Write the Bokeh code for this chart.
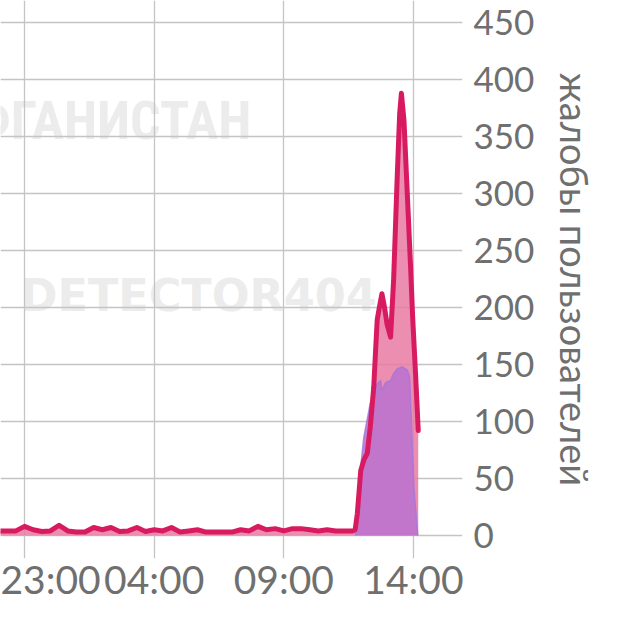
from bokeh.plotting import figure
from bokeh.models import FixedTicker, Label, Range1d
from bokeh.embed import file_html
from bokeh.resources import INLINE

# ---- data ----
tick_times = ["23:00", "04:00", "09:00", "14:00"]
y_ticks = [0, 50, 100, 150, 200, 250, 300, 350, 400, 450]

# complaints series (pink line)
pink_times = [
    "22:00", "22:20", "22:40", "23:00", "23:20", "23:40", "00:00", "00:20", "00:40",
    "01:00", "01:20", "01:40", "02:00", "02:20", "02:40", "03:00", "03:20",
    "03:40", "04:00", "04:20", "04:40", "05:00", "05:20", "05:40", "06:00",
    "06:20", "06:40", "07:00", "07:20", "07:40", "08:00", "08:20", "08:40",
    "09:00", "09:20", "09:40", "10:00", "10:20", "10:40", "11:00", "11:20",
    "11:40", "11:45", "11:50", "11:58", "12:05", "12:13", "12:20", "12:28",
    "12:32", "12:36", "12:41", "12:47", "12:53", "12:59", "13:07", "13:14",
    "13:22", "13:28", "13:32", "13:38", "13:46", "13:53", "13:58", "14:05",
    "14:11",
]
pink_values = [
    4, 4, 4, 8, 5, 3.5, 4, 9, 4,
    3, 3, 7, 5, 7, 3.5, 4, 7,
    3.5, 5, 4, 7, 3, 4, 5, 3,
    3, 3, 3, 5, 4, 8, 5, 6,
    4, 6, 6, 5, 4, 5, 4, 4,
    4, 5, 19, 57, 66, 72, 95, 130,
    160, 189, 200, 212, 200, 185, 174, 224,
    311, 370, 388, 364, 297, 238, 192, 140,
    92,
]

# second series (purple area)
purple_times = [
    "11:46", "11:53", "12:05", "12:20", "12:36", "12:44", "12:47", "12:55",
    "13:07", "13:14", "13:22", "13:34", "13:46", "13:51", "13:55", "14:01",
    "14:10",
]
purple_values = [
    0, 42, 86, 116, 133, 136, 127, 134,
    136, 142, 146, 148, 145, 139, 101, 42,
    0,
]

y_title = "жалобы пользователей"


def to_hours(t):
    h, m = (int(s) for s in t.split(":"))
    v = h + m / 60.0
    return v - 23 if h >= 22 else v + 1


tick_pos = [to_hours(t) for t in tick_times]
pink_x = [to_hours(t) for t in pink_times]
purple_x = [to_hours(t) for t in purple_times]

GRID = "#c4c4c4"
TXT = "#6f6f6f"

p = figure(
    width=608, height=608, output_backend="svg", toolbar_location=None,
    x_range=Range1d(-0.926, 16.89), y_range=Range1d(-20.2, 469.3),
    y_axis_location="right",
    min_border_left=0, min_border_top=0, min_border_right=146, min_border_bottom=50,
)
p.outline_line_color = None
p.background_fill_color = "white"
p.border_fill_color = "white"

# grids
p.xgrid.ticker = FixedTicker(ticks=tick_pos)
p.ygrid.ticker = FixedTicker(ticks=y_ticks)
for g in (p.xgrid, p.ygrid):
    g.grid_line_color = GRID
    g.grid_line_width = 1.3

# x axis
xa = p.xaxis[0]
xa.ticker = FixedTicker(ticks=tick_pos)
xa.major_label_overrides = {pos: lab for pos, lab in zip(tick_pos, tick_times)}
xa.axis_line_color = None
xa.major_tick_line_color = None
xa.minor_tick_line_color = None
xa.major_tick_out = 0
xa.major_tick_in = 0
xa.major_label_standoff = -3
xa.major_label_text_font = "Lato"
xa.major_label_text_font_size = "39px"
xa.major_label_text_color = TXT

# y axis (right)
ya = p.yaxis[0]
ya.ticker = FixedTicker(ticks=y_ticks)
ya.axis_line_color = None
ya.major_tick_line_color = None
ya.minor_tick_line_color = None
ya.major_tick_out = 0
ya.major_tick_in = 0
ya.major_label_standoff = 11
ya.major_label_text_font = "Lato"
ya.major_label_text_font_size = "35px"
ya.major_label_text_color = TXT
ya.axis_label = y_title
ya.axis_label_text_font = "Lato"
ya.axis_label_text_font_size = "38px"
ya.axis_label_text_font_style = "normal"
ya.axis_label_text_color = TXT
ya.axis_label_standoff = 15

# watermarks (under the grid)
p.add_layout(Label(x=8.75, y=364, text="АФГАНИСТАН", text_align="right",
                   text_baseline="alphabetic",
                   text_font="Roboto Condensed, DejaVu Sans Condensed, Liberation Sans",
                   text_font_style="bold",
                   text_font_size="54px", text_color="#ececec", level="image"))
p.add_layout(Label(x=-0.15, y=210.5, text="DETECTOR404", text_align="left",
                   text_baseline="alphabetic",
                   text_font="DejaVu Sans", text_font_style="bold",
                   text_font_size="44.5px", text_color="#ececec", level="image"))

# series
p.varea(x=pink_x, y1=0, y2=pink_values, fill_color="#e97aa2", fill_alpha=0.85)
p.varea(x=purple_x, y1=0, y2=purple_values, fill_color="#bd73cf", fill_alpha=0.9)
p.line(x=purple_x, y=purple_values, line_color="#a276dc", line_width=1.5, line_alpha=0.8)
p.line(x=pink_x, y=pink_values, line_color="#d81b60", line_width=5,
       line_join="round", line_cap="round")

open("out.html", "w").write(file_html(p, INLINE))
